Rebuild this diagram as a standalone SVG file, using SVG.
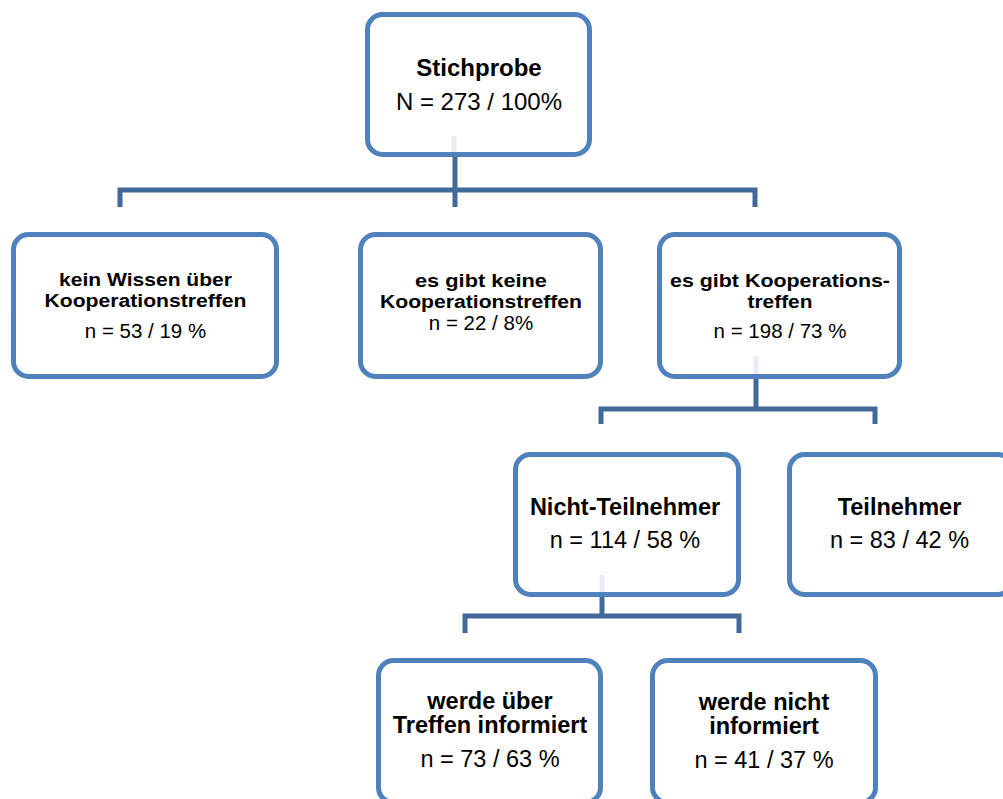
<svg xmlns="http://www.w3.org/2000/svg" width="1003" height="799" viewBox="0 0 1003 799">
  <style>
    .box { fill: #ffffff; stroke: #4F81BD; stroke-width: 5; }
    .conn { fill: none; stroke: #43699A; stroke-width: 5; stroke-linejoin: miter; stroke-linecap: butt; }
    .stub { fill: none; stroke: #E8EDF4; stroke-width: 5; }
    text { font-family: "Liberation Sans", Arial, sans-serif; fill: #000000; text-anchor: middle; }
    .t0b { font-size: 24px; font-weight: bold; }
    .t0 { font-size: 24px; }
    .t1b { font-size: 18px; font-weight: bold; }
    .t1 { font-size: 20.5px; }
    .t2b { font-size: 23.5px; font-weight: bold; }
    .t2 { font-size: 23.5px; }
  </style>
  <rect width="1003" height="799" fill="#ffffff"/>

  <g id="connectors">
    <path class="conn" d="M120,207 V190 H755 V207 M455,157 V207"/>
    <path class="conn" d="M601,424 V409 H875 V424 M756,379 V409"/>
    <path class="conn" d="M465,633 V616 H739 V633 M602,597 V616"/>
  </g>

  <g id="node-stichprobe">
    <rect class="box" x="367.5" y="14.5" width="222" height="140" rx="15"/>
    <text class="t0b" x="479" y="76">Stichprobe</text>
    <text class="t0" x="479" y="110">N = 273 / 100%</text>
  </g>

  <g id="node-kein-wissen">
    <rect class="box" x="13.5" y="234.5" width="263" height="142" rx="15"/>
    <text class="t1b" x="145.5" y="286" textLength="173" lengthAdjust="spacingAndGlyphs">kein Wissen über</text>
    <text class="t1b" x="145.5" y="307" textLength="202" lengthAdjust="spacingAndGlyphs">Kooperationstreffen</text>
    <text class="t1" x="145.5" y="338">n = 53 / 19 %</text>
  </g>

  <g id="node-keine-treffen">
    <rect class="box" x="360.5" y="234.5" width="240" height="142" rx="15"/>
    <text class="t1b" x="481" y="287" textLength="132" lengthAdjust="spacingAndGlyphs">es gibt keine</text>
    <text class="t1b" x="481" y="308" textLength="202" lengthAdjust="spacingAndGlyphs">Kooperationstreffen</text>
    <text class="t1" x="481" y="330">n = 22 / 8%</text>
  </g>

  <g id="node-es-gibt-treffen">
    <rect class="box" x="659.5" y="234.5" width="240" height="142" rx="15"/>
    <text class="t1b" x="780" y="286.5" textLength="220" lengthAdjust="spacingAndGlyphs">es gibt Kooperations-</text>
    <text class="t1b" x="780" y="307.5" textLength="65" lengthAdjust="spacingAndGlyphs">treffen</text>
    <text class="t1" x="780" y="338">n = 198 / 73 %</text>
  </g>

  <g id="node-nicht-teilnehmer">
    <rect class="box" x="515.5" y="454.5" width="223" height="140" rx="15"/>
    <text class="t2b" x="625" y="515">Nicht-Teilnehmer</text>
    <text class="t2" x="625" y="548">n = 114 / 58 %</text>
  </g>

  <g id="node-teilnehmer">
    <rect class="box" x="789.5" y="454.5" width="223" height="140" rx="15"/>
    <text class="t2b" x="899.5" y="515">Teilnehmer</text>
    <text class="t2" x="899.5" y="547.5">n = 83 / 42 %</text>
  </g>

  <g id="node-informiert">
    <rect class="box" x="378.5" y="660.5" width="222" height="142" rx="15"/>
    <text class="t2b" x="490" y="709">werde über</text>
    <text class="t2b" x="490" y="733">Treffen informiert</text>
    <text class="t2" x="490" y="767">n = 73 / 63 %</text>
  </g>

  <g id="node-nicht-informiert">
    <rect class="box" x="652.5" y="660.5" width="223" height="142" rx="15"/>
    <text class="t2b" x="764" y="710">werde nicht</text>
    <text class="t2b" x="764" y="733.5">informiert</text>
    <text class="t2" x="764" y="768">n = 41 / 37 %</text>
  </g>

  <g id="connector-stubs">
    <path class="stub" d="M454,136 V152 M756,356 V374 M602,575 V592"/>
  </g>
</svg>
